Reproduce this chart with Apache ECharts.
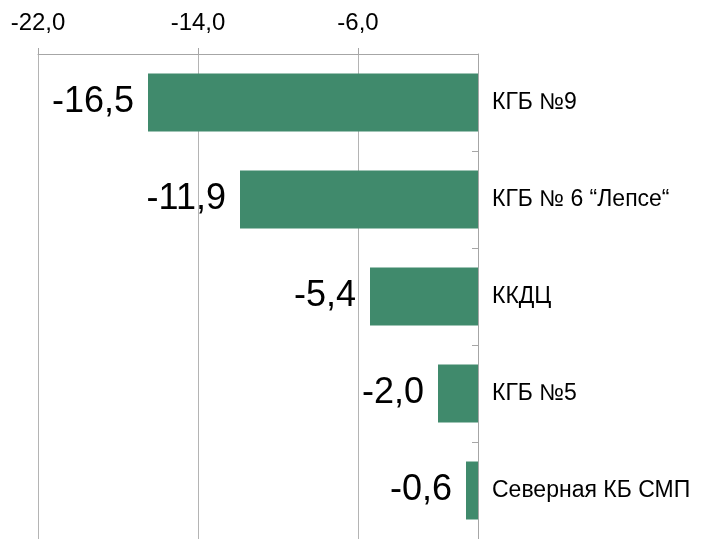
<!DOCTYPE html>
<html>
<head>
<meta charset="utf-8">
<script src="https://cdn.jsdelivr.net/npm/echarts@6/dist/echarts.min.js"></script>
<style>
  html, body { margin: 0; padding: 0; background: #fff; }
  #chart { width: 701px; height: 539px; }
</style>
</head>
<body>
<div id="chart"></div>
<script>
// категории сверху вниз
var categories = ['КГБ №9', 'КГБ № 6 \u201cЛепсе\u201c', 'ККДЦ', 'КГБ №5', 'Северная КБ СМП'];
var values = [-16.5, -11.9, -5.4, -2.0, -0.6];
var axisMin = -22;
var axisMax = 0;
var axisStep = 8;

function fmt(v) {
    return Number(v).toFixed(1).replace('.', ',');
}

var myChart = echarts.init(document.getElementById('chart'));
myChart.setOption({
    animation: false,
    textStyle: { fontFamily: 'Liberation Sans, Arial, sans-serif' },
    grid: {
        left: 38,
        right: 223,
        top: 54,
        bottom: -5
    },
    xAxis: {
        type: 'value',
        position: 'top',
        min: axisMin,
        max: axisMax,
        interval: axisStep,
        axisLine: { show: true, lineStyle: { color: '#a6a6a6', width: 1 } },
        axisTick: { show: true, length: 6, lineStyle: { color: '#a6a6a6' } },
        axisLabel: {
            color: '#000',
            fontSize: 24,
            margin: 19,
            showMaxLabel: false,
            formatter: function (v) { return v === 0 ? '' : fmt(v); }
        },
        splitLine: { show: true, lineStyle: { color: '#b4b4b4', width: 1 } }
    },
    yAxis: {
        type: 'category',
        data: categories,
        inverse: true,
        position: 'right',
        axisLine: { show: true, onZero: false, lineStyle: { color: '#a6a6a6', width: 1 } },
        axisTick: { show: true, inside: true, length: 6, lineStyle: { color: '#a6a6a6' } },
        axisLabel: { color: '#000', fontSize: 23, margin: 14 }
    },
    series: [
        {
            type: 'bar',
            data: values,
            barWidth: 58,
            itemStyle: { color: '#408a6c' },
            label: {
                show: true,
                position: 'left',
                distance: 14,
                color: '#000',
                fontSize: 36,
                formatter: function (p) { return fmt(p.value); }
            }
        }
    ]
});
</script>
</body>
</html>
